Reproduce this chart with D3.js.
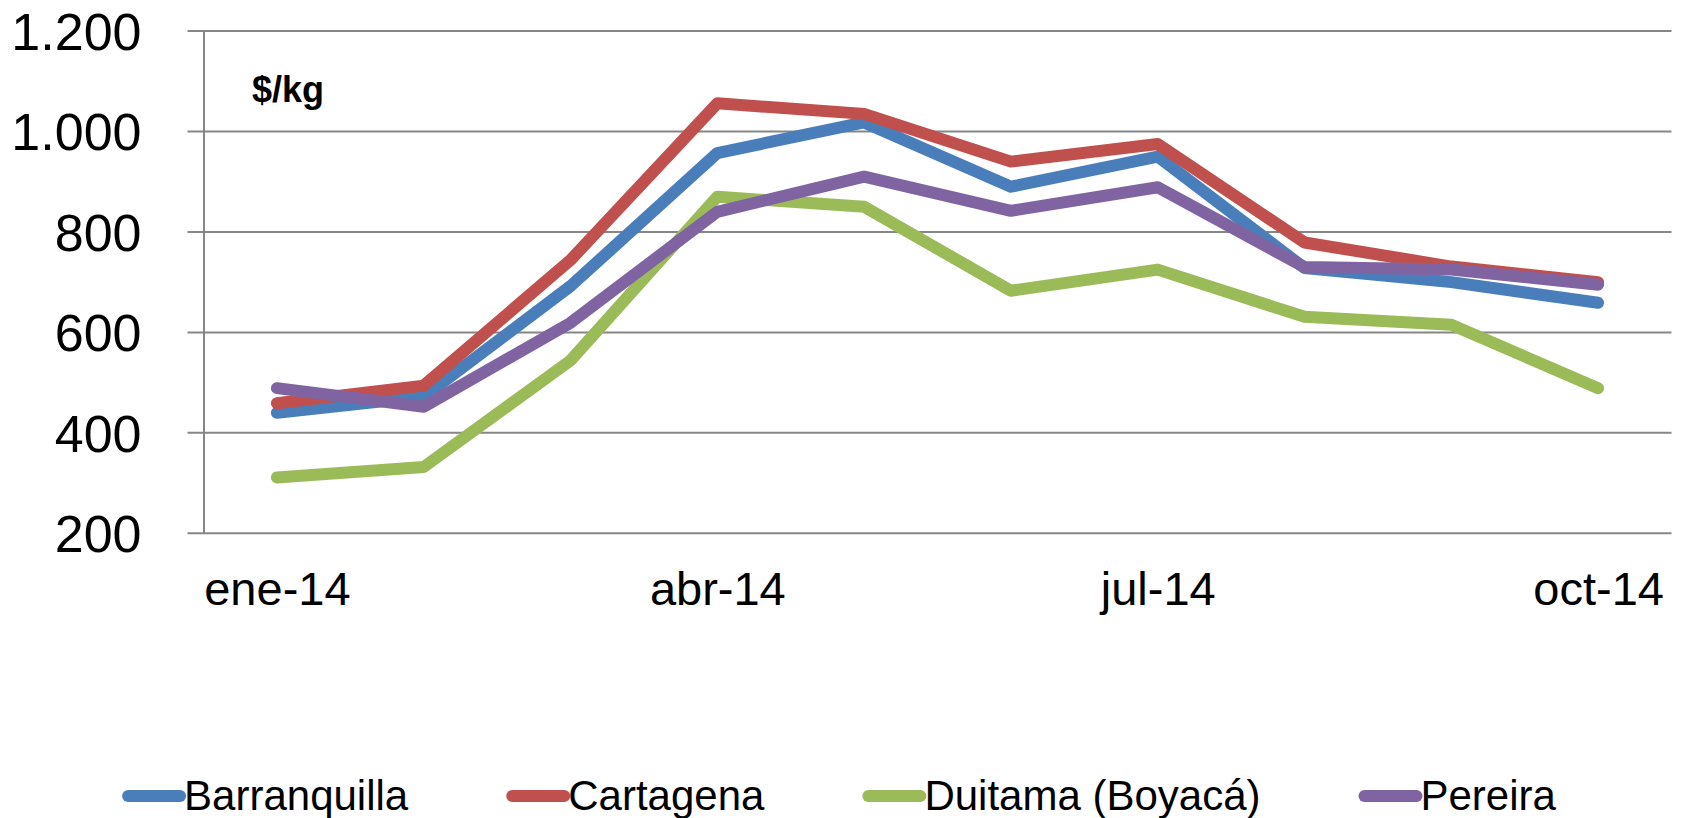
<!DOCTYPE html>
<html>
<head>
<meta charset="utf-8">
<script src="https://cdn.jsdelivr.net/npm/d3@7"></script>
<style>
  html, body { margin: 0; padding: 0; background: #fff; }
  svg { display: block; font-family: "Liberation Sans", Arial, sans-serif; }
</style>
</head>
<body>
<div id="chart"></div>
<script>
// data ($/kg, ene-14 .. oct-14)
var months = ['ene-14','feb-14','mar-14','abr-14','may-14','jun-14','jul-14','ago-14','sep-14','oct-14'];
var shownMonths = ['ene-14','abr-14','jul-14','oct-14'];
var yTicks = [200, 400, 600, 800, 1000, 1200];
var cities = ['Barranquilla','Cartagena','Duitama (Boyacá)','Pereira'];
var barranquilla = [440, 472, 692, 957, 1018, 890, 950, 728, 700, 659];
var cartagena    = [459, 494, 744, 1056, 1035, 940, 975, 779, 731, 700];
var duitama      = [311, 332, 544, 870, 850, 683, 725, 631, 615, 489];
var pereira      = [489, 452, 619, 840, 910, 842, 889, 730, 725, 695];
var colors = ['#4a7ebb', '#c0504d', '#9bbb59', '#8064a2'];

var series = [barranquilla, cartagena, duitama, pereira];

var W = 1681, H = 818;
var margin = {top: 31, right: 9.5, bottom: 284.7, left: 203.5},
    width = W - margin.left - margin.right,
    height = H - margin.top - margin.bottom;

var svg = d3.select("#chart")
    .append("svg")
    .attr("width", W)
    .attr("height", H);

var g = svg.append("g")
    .attr("transform", "translate(" + margin.left + "," + margin.top + ")");

// scales
var x = d3.scalePoint()
    .domain(months)
    .range([0, width])
    .padding(0.5);

var y = d3.scaleLinear()
    .domain([200, 1200])
    .range([height, 0]);

var es = d3.formatLocale({decimal: ",", thousands: ".", grouping: [3], currency: ["$", ""]});
var fmt = es.format(",d");

// gridlines (they also make the outer y ticks)
g.append("g")
    .selectAll("line")
    .data(yTicks)
    .enter()
    .append("line")
    .attr("x1", -16)
    .attr("x2", width)
    .attr("y1", function(d) { return y(d); })
    .attr("y2", function(d) { return y(d); })
    .attr("stroke", "#868686")
    .attr("stroke-width", 2);

// y axis
var yAxis = g.append("g")
    .call(d3.axisLeft(y).tickValues(yTicks).tickSize(0).tickPadding(62).tickFormat(fmt));
yAxis.select(".domain")
    .attr("stroke", "#868686")
    .attr("stroke-width", 2);
yAxis.selectAll("text")
    .attr("dy", null)
    .attr("y", 18.5)
    .attr("fill", "#000")
    .style("font-size", "52px")
    .style("font-family", "'Liberation Sans', Arial, sans-serif");

// x axis, only every third month labelled
var xAxis = g.append("g")
    .attr("transform", "translate(0," + height + ")")
    .call(d3.axisBottom(x).tickValues(shownMonths).tickSize(0).tickPadding(0));
xAxis.select(".domain").remove();
xAxis.selectAll("text")
    .attr("dy", null)
    .attr("y", 72)
    .attr("fill", "#000")
    .style("font-size", "47px")
    .style("font-family", "'Liberation Sans', Arial, sans-serif");

// unit label
svg.append("text")
    .attr("x", 252)
    .attr("y", 102)
    .style("font-size", "36px")
    .style("font-weight", "bold")
    .text("$/kg");

// lines
var line = d3.line()
    .x(function(d, i) { return x(months[i]); })
    .y(function(d) { return y(d); });

g.append("g")
    .selectAll("path")
    .data(series)
    .enter()
    .append("path")
    .attr("fill", "none")
    .attr("stroke", function(d, i) { return colors[i]; })
    .attr("stroke-width", 12)
    .attr("stroke-linejoin", "round")
    .attr("stroke-linecap", "round")
    .attr("d", line);

// legend, centred under the picture
var legend = svg.append("g");
var symW = 64, gap = 96, legY = 796;
var items = legend.selectAll("g")
    .data(cities)
    .enter()
    .append("g");
items.append("line")
    .attr("x1", 6)
    .attr("x2", symW - 6)
    .attr("y1", legY)
    .attr("y2", legY)
    .attr("stroke", function(d, i) { return colors[i]; })
    .attr("stroke-width", 12)
    .attr("stroke-linecap", "round");
items.append("text")
    .attr("x", symW - 2)
    .attr("y", 810)
    .style("font-size", "42px")
    .text(function(d) { return d; });

var pos = [], total = 0;
items.each(function(d, i) {
    var tw = d3.select(this).select("text").node().getComputedTextLength();
    pos.push(total);
    total += symW + tw + (i < cities.length - 1 ? gap : 0);
});
var start = 840 - total / 2;
items.attr("transform", function(d, i) { return "translate(" + (start + pos[i]) + ",0)"; });
</script>
</body>
</html>
